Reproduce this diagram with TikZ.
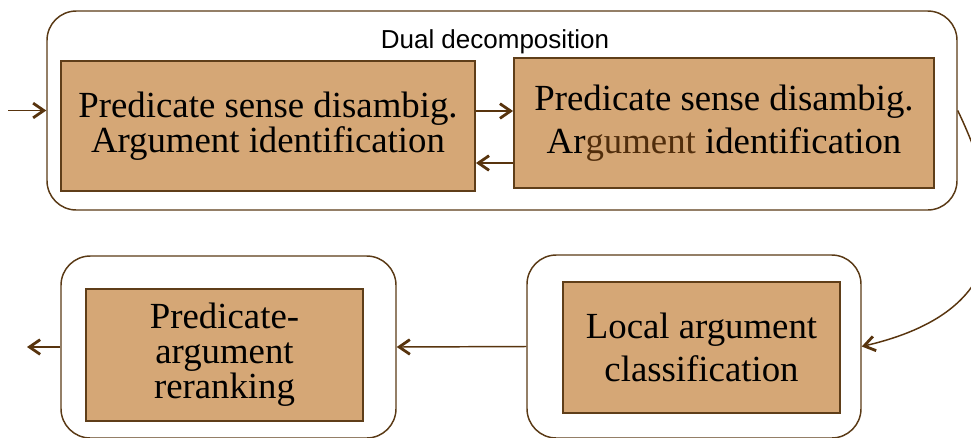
\documentclass[tikz,border=0pt]{standalone}
\usepackage{fontspec}
\setmainfont{Liberation Serif}
\newfontfamily\labelsans{Liberation Sans}
\usetikzlibrary{arrows.meta,calc}
\definecolor{boxfill}{RGB}{213,167,118}
\definecolor{boxline}{RGB}{95,62,25}
\definecolor{contline}{RGB}{90,58,22}
\definecolor{arrcol}{RGB}{88,52,14}
\definecolor{argbrown}{RGB}{80,45,12}
\tikzset{
  container/.style={draw=contline, line width=1.1pt, rounded corners=22pt, fill=none, inner sep=0pt},
  stagebox/.style={draw=boxline, line width=1.4pt, fill=boxfill, inner sep=0pt, align=center, text=black},
  serifA/.style={font={\fontsize{27.6}{26.3}\selectfont}},
  serifB/.style={font={\fontsize{27.6}{32.3}\selectfont}},
  arr/.style={draw=arrcol, line width=1.1pt, -{Straight Barb[length=8pt,width=11pt,line width=2.1pt]}},
}
\begin{document}
\begin{tikzpicture}[x=0.75pt,y=-0.75pt]
\useasboundingbox (0,0) rectangle (971,437);
\clip (0,0) rectangle (971,437);
% containers
\node[container, minimum width=910*0.75pt, minimum height=199*0.75pt] (top) at (502,110.5) {};
\node[container, minimum width=334*0.75pt, minimum height=183*0.75pt] (br) at (694,346.5) {};
\node[container, minimum width=335*0.75pt, minimum height=182*0.75pt] (bl) at (228.5,347) {};
% label
\node[font={\labelsans\fontsize{19.5}{22}\selectfont}] (dual) at (495,42) {Dual decomposition};
% stage boxes
\node[stagebox, serifA, minimum width=414*0.75pt, minimum height=130*0.75pt] (b1) at (268,126)
  {Predicate sense disambig.\\Argument identification};
\node[stagebox, serifB, minimum width=420*0.75pt, minimum height=130*0.75pt] (b2) at (724,123)
  {Predicate sense disambig.\\Ar{\color{argbrown}gument} identification};
\node[stagebox, serifB, minimum width=277*0.75pt, minimum height=131*0.75pt] (b3) at (701.5,347.5)
  {Local argument\\classification};
\node[stagebox, serifA, minimum width=277*0.75pt, minimum height=132*0.75pt] (b4) at (224.5,355)
  {Predicate-\\argument\\reranking};
% free ends
\coordinate (entry) at (8,110.5);
\coordinate (exit) at (27,347);
% connectors
\draw[arr] (entry) -- (top.west);
\draw[arr] ($(b1.east)+(0,-15)$) -- ($(b2.west)+(0,-12)$);
\draw[arr] ($(b2.west)+(0,40)$) -- ($(b1.east)+(0,37)$);
\draw[arr] (top.east) .. controls (1009,218) and (1014,311) .. (br.east);
\draw[arr] (br.west) -- (bl.east);
\draw[arr] (bl.west) -- (exit);
\end{tikzpicture}
\end{document}
